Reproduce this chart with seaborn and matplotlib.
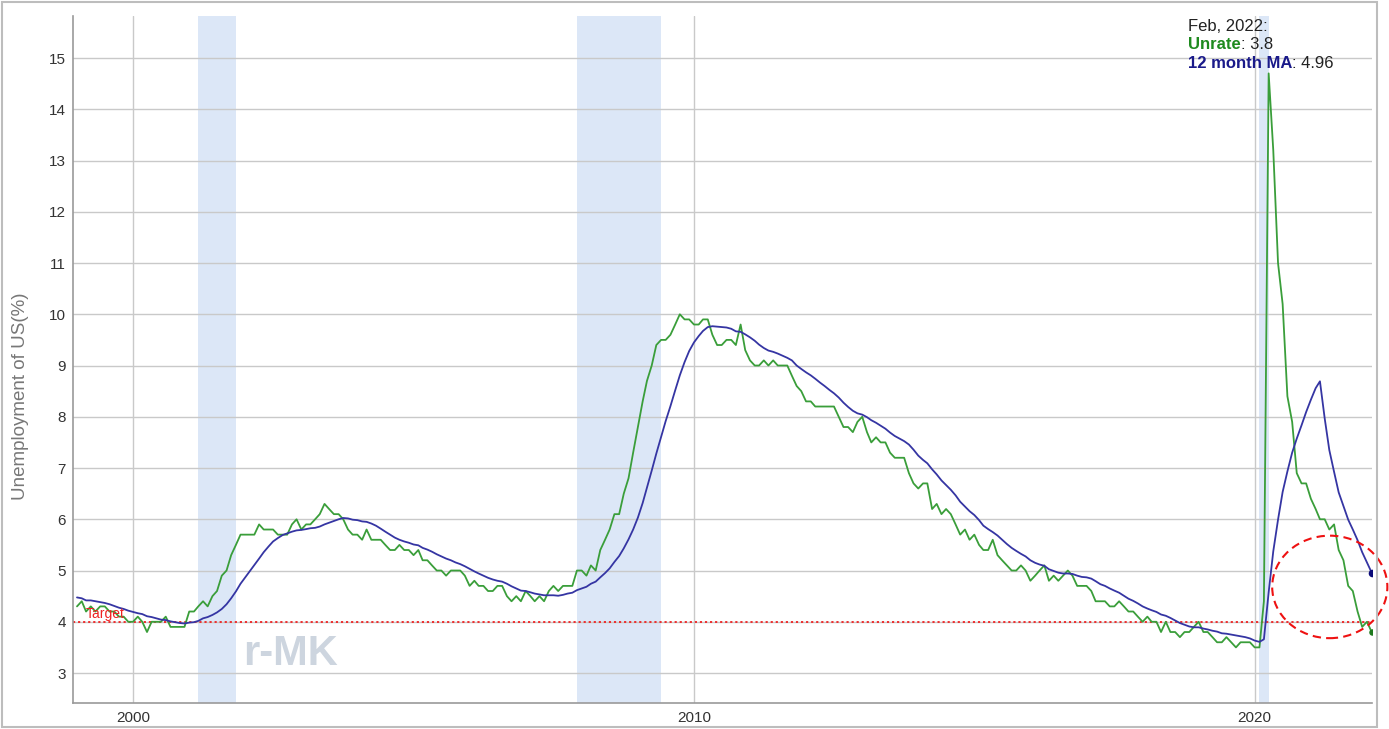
#!/usr/bin/env python
# -*- coding: utf-8 -*-

import numpy as np
import pandas as pd

import matplotlib.pyplot as plt
import matplotlib.dates as mdates
from matplotlib.patches import Ellipse, Rectangle
import seaborn as sns

## ============================================================= ##

START = '1999-01-01'
END = '2022-02-01'

unrate = [
	4.3, 4.4, 4.2, 4.3, 4.2, 4.3, 4.3, 4.2, 4.2, 4.1, 4.1, 4.0,  # 1999
	4.0, 4.1, 4.0, 3.8, 4.0, 4.0, 4.0, 4.1, 3.9, 3.9, 3.9, 3.9,  # 2000
	4.2, 4.2, 4.3, 4.4, 4.3, 4.5, 4.6, 4.9, 5.0, 5.3, 5.5, 5.7,  # 2001
	5.7, 5.7, 5.7, 5.9, 5.8, 5.8, 5.8, 5.7, 5.7, 5.7, 5.9, 6.0,  # 2002
	5.8, 5.9, 5.9, 6.0, 6.1, 6.3, 6.2, 6.1, 6.1, 6.0, 5.8, 5.7,  # 2003
	5.7, 5.6, 5.8, 5.6, 5.6, 5.6, 5.5, 5.4, 5.4, 5.5, 5.4, 5.4,  # 2004
	5.3, 5.4, 5.2, 5.2, 5.1, 5.0, 5.0, 4.9, 5.0, 5.0, 5.0, 4.9,  # 2005
	4.7, 4.8, 4.7, 4.7, 4.6, 4.6, 4.7, 4.7, 4.5, 4.4, 4.5, 4.4,  # 2006
	4.6, 4.5, 4.4, 4.5, 4.4, 4.6, 4.7, 4.6, 4.7, 4.7, 4.7, 5.0,  # 2007
	5.0, 4.9, 5.1, 5.0, 5.4, 5.6, 5.8, 6.1, 6.1, 6.5, 6.8, 7.3,  # 2008
	7.8, 8.3, 8.7, 9.0, 9.4, 9.5, 9.5, 9.6, 9.8, 10.0, 9.9, 9.9,  # 2009
	9.8, 9.8, 9.9, 9.9, 9.6, 9.4, 9.4, 9.5, 9.5, 9.4, 9.8, 9.3,  # 2010
	9.1, 9.0, 9.0, 9.1, 9.0, 9.1, 9.0, 9.0, 9.0, 8.8, 8.6, 8.5,  # 2011
	8.3, 8.3, 8.2, 8.2, 8.2, 8.2, 8.2, 8.0, 7.8, 7.8, 7.7, 7.9,  # 2012
	8.0, 7.7, 7.5, 7.6, 7.5, 7.5, 7.3, 7.2, 7.2, 7.2, 6.9, 6.7,  # 2013
	6.6, 6.7, 6.7, 6.2, 6.3, 6.1, 6.2, 6.1, 5.9, 5.7, 5.8, 5.6,  # 2014
	5.7, 5.5, 5.4, 5.4, 5.6, 5.3, 5.2, 5.1, 5.0, 5.0, 5.1, 5.0,  # 2015
	4.8, 4.9, 5.0, 5.1, 4.8, 4.9, 4.8, 4.9, 5.0, 4.9, 4.7, 4.7,  # 2016
	4.7, 4.6, 4.4, 4.4, 4.4, 4.3, 4.3, 4.4, 4.3, 4.2, 4.2, 4.1,  # 2017
	4.0, 4.1, 4.0, 4.0, 3.8, 4.0, 3.8, 3.8, 3.7, 3.8, 3.8, 3.9,  # 2018
	4.0, 3.8, 3.8, 3.7, 3.6, 3.6, 3.7, 3.6, 3.5, 3.6, 3.6, 3.6,  # 2019
	3.5, 3.5, 4.4, 14.7, 13.2, 11.0, 10.2, 8.4, 7.9, 6.9, 6.7, 6.7,  # 2020
	6.4, 6.2, 6.0, 6.0, 5.8, 5.9, 5.4, 5.2, 4.7, 4.6, 4.2, 3.9,  # 2021
	4.0, 3.8,  # 2022
]

ma12 = [
	4.475, 4.458, 4.417, 4.417, 4.400, 4.383, 4.367, 4.342, 4.308, 4.275, 4.250, 4.217,
	4.192, 4.167, 4.150, 4.108, 4.092, 4.067, 4.042, 4.033, 4.008, 3.992, 3.975, 3.967,
	3.983, 3.992, 4.017, 4.067, 4.092, 4.133, 4.183, 4.250, 4.342, 4.458, 4.592, 4.742,
	4.867, 4.992, 5.108, 5.233, 5.358, 5.467, 5.567, 5.633, 5.692, 5.725, 5.758, 5.783,
	5.792, 5.808, 5.825, 5.833, 5.858, 5.900, 5.933, 5.967, 6.000, 6.025, 6.017, 5.992,
	5.983, 5.958, 5.950, 5.917, 5.875, 5.817, 5.758, 5.700, 5.642, 5.600, 5.567, 5.542,
	5.508, 5.492, 5.442, 5.408, 5.367, 5.317, 5.275, 5.233, 5.200, 5.158, 5.125, 5.083,
	5.033, 4.983, 4.942, 4.900, 4.858, 4.825, 4.800, 4.783, 4.742, 4.692, 4.650, 4.608,
	4.600, 4.575, 4.550, 4.533, 4.517, 4.517, 4.517, 4.508, 4.525, 4.550, 4.567, 4.617,
	4.650, 4.683, 4.742, 4.783, 4.867, 4.950, 5.042, 5.167, 5.283, 5.433, 5.608, 5.800,
	6.033, 6.317, 6.617, 6.950, 7.283, 7.608, 7.917, 8.208, 8.517, 8.808, 9.067, 9.283,
	9.450, 9.575, 9.675, 9.750, 9.767, 9.758, 9.750, 9.742, 9.717, 9.667, 9.658, 9.608,
	9.550, 9.483, 9.408, 9.342, 9.292, 9.267, 9.233, 9.192, 9.150, 9.100, 9.000, 8.933,
	8.867, 8.808, 8.742, 8.667, 8.600, 8.525, 8.458, 8.375, 8.275, 8.192, 8.117, 8.067,
	8.042, 7.992, 7.933, 7.883, 7.825, 7.767, 7.692, 7.625, 7.575, 7.525, 7.458, 7.358,
	7.242, 7.158, 7.092, 6.975, 6.875, 6.758, 6.667, 6.575, 6.467, 6.342, 6.250, 6.158,
	6.083, 5.983, 5.875, 5.808, 5.750, 5.683, 5.600, 5.517, 5.442, 5.383, 5.325, 5.275,
	5.200, 5.150, 5.117, 5.092, 5.025, 4.992, 4.958, 4.942, 4.942, 4.933, 4.900, 4.875,
	4.867, 4.842, 4.792, 4.733, 4.700, 4.650, 4.608, 4.567, 4.508, 4.450, 4.408, 4.358,
	4.300, 4.258, 4.225, 4.192, 4.142, 4.117, 4.075, 4.025, 3.975, 3.942, 3.908, 3.892,
	3.892, 3.867, 3.850, 3.825, 3.808, 3.775, 3.767, 3.750, 3.733, 3.717, 3.700, 3.675,
	3.633, 3.608, 3.658, 4.575, 5.375, 5.992, 6.533, 6.933, 7.300, 7.575, 7.833, 8.092,
	8.333, 8.558, 8.692, 7.967, 7.350, 6.925, 6.525, 6.258, 5.992, 5.800, 5.592, 5.358,
	5.158, 4.958,
]

recession_start = ['2001-03-01', '2007-12-01', '2020-02-01']
recession_end = ['2001-11-01', '2009-06-01', '2020-04-01']

target = 4.0
xtick_years = ['2000-01-01', '2010-01-01', '2020-01-01']
xtick_labels = ['2000', '2010', '2020']
yticks = list(range(3, 16))

GREEN = '#3a9e3a'
NAVY = '#3535a3'

## ============================================================= ##

df = pd.DataFrame({'date': pd.date_range(START, END, freq='MS'),
	'Unrate': unrate, '12 month MA': ma12})

sns.set_style('white')
plt.rcParams['font.family'] = ['Liberation Sans', 'DejaVu Sans']

fig = plt.figure(figsize=(13.89, 7.29), dpi=100)
ax = fig.add_axes([73 / 1389, 26 / 729, (1372 - 73) / 1389, (703 - 16) / 729])

for s, e in zip(recession_start, recession_end):
	ax.axvspan(pd.Timestamp(s), pd.Timestamp(e), color='#dce7f7', lw=0, zorder=0)

sns.lineplot(data=df, x='date', y='Unrate', color=GREEN, lw=1.3, ax=ax, zorder=3)
sns.lineplot(data=df, x='date', y='12 month MA', color=NAVY, lw=1.3, ax=ax, zorder=4)

# end markers
last = df.iloc[[-1]]
sns.scatterplot(data=last, x='date', y='12 month MA', color='#0b0b7a', marker='o', s=30, lw=0, ax=ax, zorder=5)
sns.scatterplot(data=last, x='date', y='Unrate', color='#1f7a1f', marker='o', s=22, lw=0, ax=ax, zorder=5)

ax.axhline(target, color='#ee2222', ls=(0, (1.2, 1.6)), lw=1.3, zorder=2)
ax.text(pd.Timestamp('1999-03-01'), target + 0.08, 'Target', color='#ee2222', fontsize=10, va='baseline', ha='left', zorder=6)

ax.set_xlim(pd.Timestamp('1998-12-06'), pd.Timestamp('2022-02-03'))
ax.set_ylim(2.415, 15.82)
ax.set_yticks(yticks)
ax.set_xticks([pd.Timestamp(d) for d in xtick_years])
ax.set_xticklabels(xtick_labels)

ax.grid(True, color='#c9c9c9', lw=1.0, zorder=1)
ax.set_axisbelow(True)
for sp in ['top', 'right']:
	ax.spines[sp].set_visible(False)
for sp in ['left', 'bottom']:
	ax.spines[sp].set_color('#9a9a9a')
	ax.spines[sp].set_linewidth(1.2)
ax.tick_params(axis='both', length=0, labelsize=11, labelcolor='#333333')
ax.tick_params(axis='y', pad=5)
ax.tick_params(axis='x', pad=6)
ax.set_xlabel('')
ax.set_ylabel('Unemployment of US(%)', fontsize=13.5, color='#777777')
ax.yaxis.set_label_coords(-44 / 1299, (703 - 396) / 687)

# watermark
ax.text(pd.Timestamp('2001-12-20'), 3.16, 'r-MK', fontsize=30, fontweight='bold', color='#cdd5df',
	ha='left', va='baseline', zorder=1)

# red circle
circ = Ellipse((mdates.date2num(pd.Timestamp('2021-05-04')), 4.68), width=750, height=2.0,
	fill=False, ec='#ee1111', ls=(0, (4, 2.5)), lw=1.5, clip_on=False, zorder=7)
ax.add_patch(circ)

# hover-like annotation
fs = 12
fig.text(1188 / 1389, 1 - 31 / 729, 'Feb, 2022:', fontsize=fs, color='#222222', va='baseline')
t1 = fig.text(1188 / 1389, 1 - 49 / 729, 'Unrate', fontsize=fs, color='#1e8a1e', fontweight='bold', va='baseline')
ax.annotate(': 3.8', xy=(1, 0), xycoords=t1, fontsize=fs, color='#222222', va='bottom', ha='left',
	annotation_clip=False)
t2 = fig.text(1188 / 1389, 1 - 68 / 729, '12 month MA', fontsize=fs, color='#1a1a8a', fontweight='bold', va='baseline')
ax.annotate(': 4.96', xy=(1, 0), xycoords=t2, fontsize=fs, color='#222222', va='bottom', ha='left',
	annotation_clip=False)

# outer frame
fig.patches.append(Rectangle((2 / 1389, 2 / 729), 1375 / 1389, 725 / 729, transform=fig.transFigure,
	fill=False, ec='#bdbdbd', lw=1.5))

fig.savefig('out.png', dpi=100)
